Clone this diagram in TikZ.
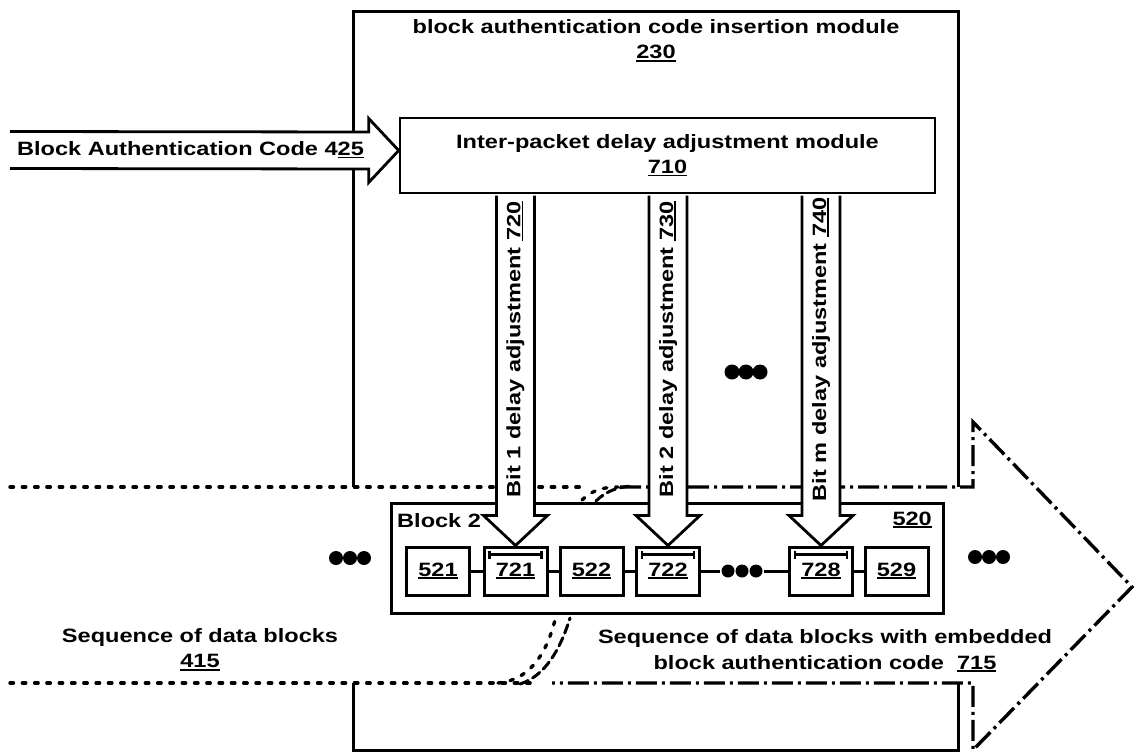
\documentclass[tikz,border=0pt]{standalone}
\usepackage{fontspec}
\setmainfont{Liberation Sans}[FakeStretch=1.22]
\usetikzlibrary{calc}
% thick underline for reference numerals
\newcommand\ulx[1]{\setbox0\hbox{#1}\rlap{\rule[-3pt]{\wd0}{1.9pt}}\box0}
\begin{document}
\begin{tikzpicture}[x=1pt,y=-1pt,
  every node/.style={font=\fontsize{19.3}{25}\selectfont\bfseries, inner sep=0pt, align=center},
  frame/.style={line width=3pt, line join=miter},
  box/.style={draw, line width=3pt, minimum width=63pt, minimum height=48pt},
  fat/.style={draw, fill=white, line width=2.8pt, line join=miter},
  link/.style={line width=3pt},
  dotline/.style={line width=3.4pt, dash pattern=on 3.5pt off 8.8pt, line cap=round},
  dashdotline/.style={line width=3.4pt, dash pattern=on 21pt off 5pt on 3pt off 5pt},
  longdash/.style={line width=3pt, dash pattern=on 9pt off 5pt, line cap=round},
  tick/.style={line width=2.2pt}]
\useasboundingbox (0,0) rectangle (1134,754);

% outer module 230, split by the data stream
\coordinate (otl) at (353,12);
\coordinate (otr) at (958,12);
\coordinate (obl) at (353,750);
\coordinate (obr) at (958,750);
\draw[frame] (353,487) -- (otl) -- (otr) -- (958,487);
\draw[frame] (353,683) -- (obl) -- (obr) -- (958,683);
\node (t230) at (656,41) {block authentication code insertion module\\\ulx{230}};

% the data stream as a wide arrow
\draw[dotline] (10,487) -- (585,487);
\draw[dotline] (10,683) -- (535,683);
\draw[dashdotline] (620,487) -- (973,487) -- (973,422) -- (1132,587) -- (973,750) -- (973,683) -- (552,683);
% stream bending into and out of the block
\draw[dotline] (498,683) .. controls (532,680) and (548,650) .. (556,616);
\draw[longdash] (520,684) .. controls (545,676) and (560,650) .. (570,618);
\draw[dotline] (582,500) .. controls (592,490) and (604,487) .. (618,487);
\draw[longdash] (596,501) .. controls (606,491) and (618,487) .. (632,486);

% block 520 and its parts
\node[draw, line width=3pt, minimum width=552pt, minimum height=110pt] (b520) at (667,558) {};
\node[anchor=west] (blk2) at (397,521) {Block 2};
\node[anchor=east] (n520) at (932,520) {\ulx{520}};
\node[box] (b521) at (438,571) {\ulx{521}};
\node[box] (b721) at (515.5,571) {\raisebox{-4pt}{\ulx{721}}};
\node[box] (b522) at (591.5,571) {\ulx{522}};
\node[box] (b722) at (668,571) {\raisebox{-4pt}{\ulx{722}}};
\node[minimum width=44pt, minimum height=14pt] (gap) at (742,571) {};
\node[box] (b728) at (821,571) {\raisebox{-4pt}{\ulx{728}}};
\node[box] (b529) at (896.5,571) {\ulx{529}};
\draw[link] (b521) -- (b721);
\draw[link] (b721) -- (b522);
\draw[link] (b522) -- (b722);
\draw[link] (b722) -- (gap);
\draw[link] (gap) -- (b728);
\draw[link] (b728) -- (b529);

% interval marks inside the adjusted slots
\newcommand\slotmark[1]{%
  \draw[tick] ($(#1.north west)+(7,9)$) -- ($(#1.north east)+(-7,9)$);
  \draw[tick] ($(#1.north west)+(7,5)$) -- ($(#1.north west)+(7,13)$);
  \draw[tick] ($(#1.north east)+(-7,5)$) -- ($(#1.north east)+(-7,13)$);}
\slotmark{b721}
\slotmark{b722}
\slotmark{b728}

% ellipses
\newcommand\dotrow[2]{\foreach \dx in {-14,0,14} \fill ($(#1)+(\dx,0)$) circle (#2);}
\dotrow{gap.center}{6.5}
\coordinate (dl) at (350,558);
\coordinate (dr) at (989,557);
\coordinate (dm) at (746,372);
\dotrow{dl}{7}
\dotrow{dr}{7}
\dotrow{dm}{7.5}

% inter-packet delay adjustment module
\node[draw, line width=2.6pt, minimum width=535pt, minimum height=75pt] (m710) at (667.5,155.5)
  {Inter-packet delay adjustment module\\\ulx{710}};

% incoming block authentication code
\coordinate (bac) at (10,150);
\coordinate (bactip) at ($(m710.west)+(0,-5)$);
\draw[fat] ($(bac)+(0,-18.5)$) -- ($(bactip)+(-30,-18.5)$) -- ($(bactip)+(-30,-32)$) -- (bactip)
  -- ($(bactip)+(-30,32)$) -- ($(bactip)+(-30,18.5)$) -- ($(bac)+(0,18.5)$);
\node[anchor=west] (baclabel) at (17,150) {Block Authentication Code 4\ulx{25}};

% bit delay adjustments
\newcommand\fatdown[2]{%
  \draw[fat] ($(#1.south -| #2.north)+(-19,1.3)$) -- ($(#2.north)+(-19,-30)$) -- ($(#2.north)+(-32,-30)$)
    -- (#2.north) -- ($(#2.north)+(32,-30)$) -- ($(#2.north)+(19,-30)$) -- ($(#1.south -| #2.north)+(19,1.3)$);}
\fatdown{m710}{b721}
\fatdown{m710}{b722}
\fatdown{m710}{b728}
\node[rotate=90] (l720) at ($(m710.south -| b721.north)+(0,155)$) {Bit 1 delay adjustment \ulx{720}};
\node[rotate=90] (l730) at ($(m710.south -| b722.north)+(0,155)$) {Bit 2 delay adjustment \ulx{730}};
\node[rotate=90] (l740) at ($(m710.south -| b728.north)+(0,155)$) {Bit m delay adjustment \ulx{740}};

% stream captions
\node (s415) at (200,650) {Sequence of data blocks\\\ulx{415}};
\node (s715) at (825,651) {Sequence of data blocks with embedded\\block authentication code~~\ulx{715}};
\end{tikzpicture}
\end{document}
